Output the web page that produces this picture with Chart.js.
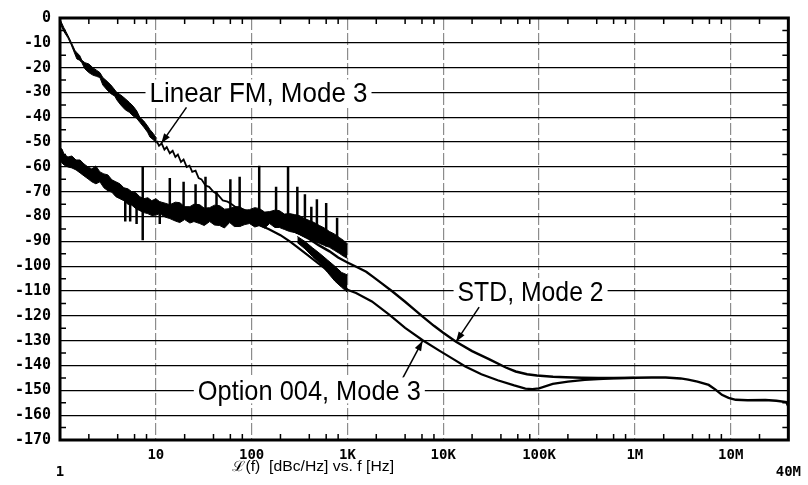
<!DOCTYPE html>
<html>
<head>
<meta charset="utf-8">
<script src="https://cdn.jsdelivr.net/npm/chart.js@4.4.0/dist/chart.umd.min.js"></script>
<style>
  html, body { margin: 0; padding: 0; background: #fff; }
  #wrap { width: 808px; height: 485px; }
</style>
</head>
<body>
<div id="wrap"><canvas id="ruidoFase"></canvas></div>
<script>
// Eje X (Hz, logaritmico) y eje Y (dBc/Hz)
const xTickValues = [1, 10, 100, 1e3, 1e4, 1e5, 1e6, 1e7, 4e7];
const xTickLabels = ['1', '10', '100', '1K', '10K', '100K', '1M', '10M', '40M'];
const yMin = -170;
const yMax = 0;

// Linear FM, Mode 3: franja ruidosa hasta 10 Hz
const fmBandFreq  = [1, 1.1, 1.21, 1.3, 1.43, 1.5, 1.6, 1.69, 1.82, 2.0, 2.2, 2.4, 2.61, 2.8, 3.1, 3.4, 3.74, 3.92, 4.3, 4.8, 5.3, 5.8, 6.34, 6.81, 7.5, 8.2, 8.7, 9.4, 10.2];
const fmBandUpper = [-0.5, -4, -7, -9.5, -13, -14, -15, -17, -18, -18.5, -20, -21, -22, -24, -25.5, -27, -29, -30, -31, -32.5, -34, -35.5, -37.5, -40, -41.5, -43.5, -45, -46.5, -48.5];
const fmBandLower = [-2, -5.5, -8, -10.5, -14.5, -16.5, -17, -18, -20.5, -22, -23, -23.5, -24, -27, -29, -30.5, -31.5, -33, -35, -37, -38, -39.5, -40.5, -42, -44, -46, -48, -49, -50.5];
// Linear FM, Mode 3: traza fina de 10 a 100 Hz
const fmLineFreq  = [10.2, 10.8, 11.5, 12.3, 13, 14, 15, 16, 17, 18.3, 19.5, 21, 22.5, 24, 26, 28, 30, 33, 36, 40, 44, 50, 56, 62, 70, 80, 95];
const fmLineLevel = [-49.5, -51.5, -50.5, -53, -52, -54.5, -53.5, -56, -55, -58, -57, -60, -59.5, -62, -61.5, -64.5, -65, -67.5, -68, -70, -71, -73.5, -74, -75, -76.5, -77, -78];

// STD / Option 004: masa de ruido de 1 Hz a 1 kHz (borde superior e inferior)
const massFreq  = [1, 1.05, 1.1, 1.21, 1.33, 1.47, 1.62, 1.78, 1.96, 2.15, 2.37, 2.61, 2.87, 3.16, 3.48, 3.83, 4.22, 4.64, 5.11, 5.62, 6.19, 6.81, 7.5, 8.25, 9.08, 10, 11, 12.5, 14, 16, 17.8, 20, 22.7, 25, 28.7, 32, 36.5, 41, 46.4, 52, 59, 66, 75, 85, 95, 108, 121, 137, 154, 175, 195, 220, 249, 280, 316, 355, 402, 450, 511, 575, 649, 730, 822, 910, 1000];
const massUpper = [-52.4, -52.8, -54.8, -56, -55.6, -57.2, -57.2, -58.8, -60, -60.8, -59.6, -62, -62.8, -63.2, -65.2, -66, -66.8, -68.4, -68.8, -70, -70.4, -72, -72.8, -72.4, -73.6, -72.8, -74, -74.6, -75.2, -74.2, -74.4, -76, -76, -75, -75.2, -76.6, -76.4, -75.4, -75.6, -77, -76.8, -76, -76, -77.4, -77.2, -76.4, -76.8, -78.2, -78, -77.4, -77.6, -79, -78.8, -79.2, -79.6, -80.8, -81.6, -82.4, -83.6, -84.6, -86, -87, -88.4, -89.6, -91];
const massLower = [-57.2, -58.4, -59.2, -60, -60.4, -61.2, -62.4, -63.6, -64.8, -66, -66.8, -66, -68.4, -69.6, -70.2, -72, -72.8, -73.6, -75, -75.4, -76.8, -77.6, -78.4, -78.8, -79.6, -79.4, -78.8, -80.2, -80.8, -81.8, -82.4, -81.2, -82.6, -82, -82.8, -83.6, -82, -83.4, -83.6, -84.6, -82.4, -84, -84, -83.2, -82.8, -84.2, -83.6, -84.6, -82.8, -84.4, -84.4, -85.2, -86, -86.4, -87.2, -88.2, -88.8, -90, -90.8, -91.6, -92.4, -93.6, -94.8, -96, -96.8];

// Option 004: tramo ruidoso inferior de 300 Hz a 1 kHz
const optBlobFreq  = [300, 360, 430, 520, 620, 740, 870, 1000];
const optBlobUpper = [-88, -90, -92.5, -95, -97.5, -100, -102.5, -103.5];
const optBlobLower = [-90.5, -93, -96, -99, -102.5, -106, -108.5, -110.5];

// Espurias de red y otras (frecuencia, pico, base)
const spurFreq   = [4.8, 5.4, 6.3, 7.3, 11, 14, 19.5, 26, 33, 43, 60, 75, 120, 180, 240, 300, 360, 420, 480, 600, 780];
const spurTop    = [-70, -70, -73, -60, -74, -64.5, -66, -67, -64, -70, -65, -64, -59.5, -68, -60, -68, -71, -76, -73, -74.5, -80.5];
const spurBottom = [-82, -82, -83, -89.5, -83, -80, -81, -82, -83, -83, -82, -84, -83, -84, -85, -87, -88, -89, -90, -92, -94];

// STD, Mode 2: traza suave
const stdFreq  = [230, 300, 400, 500, 650, 800, 1000, 1250, 1570, 1840, 2300, 2950, 4000, 5000, 6100, 8000, 10000, 13600, 20000, 30000, 45000, 57000, 75000, 95000, 140000, 190000, 280000, 414000, 600000, 1000000, 1500000, 2100000, 3000000, 3600000, 4500000, 5900000, 7000000, 8100000, 9500000, 11300000, 15000000, 23000000, 30000000, 38000000, 40000000];
const stdLevel = [-84.6, -86.5, -89, -91.5, -94, -96.5, -98.5, -100.3, -102.2, -104.2, -107, -110.2, -114.3, -117.5, -120.3, -124, -126.8, -130.4, -134.2, -137.4, -140.8, -142.4, -143.5, -144, -144.5, -144.7, -144.9, -145, -145, -144.9, -144.8, -144.8, -145.2, -145.7, -146.5, -147.8, -149.8, -151.8, -153, -153.8, -154, -153.9, -154.2, -154.7, -156.5];

// Option 004, Mode 3: traza suave
const optFreq  = [116, 150, 200, 250, 300, 400, 500, 600, 700, 850, 1000, 1230, 1800, 2750, 4000, 6100, 9100, 13000, 17000, 25000, 37000, 55000, 72000, 85000, 100000, 139000, 200000, 300000, 414000, 600000, 1000000];
const optLevel = [-83.2, -85, -87.5, -90, -92.3, -96, -99, -101.3, -103.3, -106, -109.5, -110.8, -114.2, -119.6, -124.8, -129.8, -134, -137.6, -140.4, -143.5, -145.9, -148, -149.3, -149.5, -149.2, -147.4, -146.5, -145.8, -145.5, -145.2, -145];

// Rotulos de las curvas (centro en frecuencia / nivel, ancho en px)
const labelText  = ['Linear FM, Mode 3', 'STD, Mode 2', 'Option 004, Mode 3'];
const labelFreq  = [118, 81600, 400];
const labelLevel = [-30, -110, -150];
const labelWidth = [218, 146, 223];

// Flechas: origen y punta
const arrowFromFreq  = [20.9, 23700, 3600];
const arrowFromLevel = [-36, -116.5, -146.6];
const arrowToFreq    = [11.4, 13600, 6100];
const arrowToLevel   = [-50.5, -130.4, -130];

const pts = (fs, ls) => fs.map((f, i) => ({ x: f, y: ls[i] }));

const spurPts = spurFreq.flatMap((f, i) => [
    { x: f, y: spurBottom[i] },
    { x: f, y: spurTop[i] },
    { x: f, y: null }
]);

const linea = (data, width, extra) => Object.assign({
    data,
    borderColor: '#000',
    backgroundColor: '#000',
    borderWidth: width,
    pointRadius: 0,
    tension: 0,
    fill: false
}, extra || {});

// Marcas menores, marco y rotulos
const decorado = {
    id: 'decorado',
    afterDatasetsDraw(chart) {
        const { ctx, chartArea: a, scales: { x, y } } = chart;
        ctx.save();

        // marcas menores del eje X: 2, 4, 6, 8 por decada
        ctx.strokeStyle = '#000';
        ctx.lineWidth = 1.5;
        for (let d = 0; d < 8; d++) {
            [2, 4, 6, 8].forEach(m => {
                const v = m * Math.pow(10, d);
                if (v >= 4e7) return;
                const px = x.getPixelForValue(v);
                ctx.beginPath();
                ctx.moveTo(px, a.bottom); ctx.lineTo(px, a.bottom - 6);
                ctx.moveTo(px, a.top); ctx.lineTo(px, a.top + 6);
                ctx.stroke();
            });
        }
        // marcas menores del eje Y cada 5 dB
        for (let v = -5; v > yMin; v -= 10) {
            const py = y.getPixelForValue(v);
            ctx.beginPath();
            ctx.moveTo(a.left, py); ctx.lineTo(a.left + 6, py);
            ctx.moveTo(a.right, py); ctx.lineTo(a.right - 6, py);
            ctx.stroke();
        }

        // marco
        ctx.lineWidth = 3;
        ctx.strokeRect(a.left, a.top, a.right - a.left, a.bottom - a.top);

        // flechas
        ctx.lineWidth = 1.5;
        ctx.fillStyle = '#000';
        arrowFromFreq.forEach((f, i) => {
            const x0 = x.getPixelForValue(f), y0 = y.getPixelForValue(arrowFromLevel[i]);
            const x1 = x.getPixelForValue(arrowToFreq[i]), y1 = y.getPixelForValue(arrowToLevel[i]);
            const ang = Math.atan2(y1 - y0, x1 - x0);
            ctx.beginPath();
            ctx.moveTo(x0, y0); ctx.lineTo(x1, y1);
            ctx.stroke();
            ctx.beginPath();
            ctx.moveTo(x1, y1);
            ctx.lineTo(x1 - 10 * Math.cos(ang) + 3.5 * Math.sin(ang), y1 - 10 * Math.sin(ang) - 3.5 * Math.cos(ang));
            ctx.lineTo(x1 - 10 * Math.cos(ang) - 3.5 * Math.sin(ang), y1 - 10 * Math.sin(ang) + 3.5 * Math.cos(ang));
            ctx.closePath();
            ctx.fill();
        });

        // rotulos con fondo blanco
        labelText.forEach((t, i) => {
            const cx = x.getPixelForValue(labelFreq[i]);
            const cy = y.getPixelForValue(labelLevel[i]);
            const w = labelWidth[i];
            ctx.fillStyle = '#fff';
            ctx.fillRect(cx - w / 2 - 4, cy - 13, w + 8, 26);
            ctx.font = '28px "Liberation Sans", Arial, sans-serif';
            const sx = w / ctx.measureText(t).width;
            ctx.save();
            ctx.translate(cx, cy);
            ctx.scale(sx, 1);
            ctx.fillStyle = '#000';
            ctx.textAlign = 'center';
            ctx.textBaseline = 'alphabetic';
            ctx.fillText(t, 0, 10);
            ctx.restore();
        });

        // titulo del eje X
        const titulo = '\u2112(f)  [dBc/Hz] vs. f [Hz]';
        ctx.font = '14px "Liberation Sans", Arial, sans-serif';
        const tw = ctx.measureText(titulo).width;
        ctx.save();
        ctx.translate(a.left + 253, a.bottom + 27);
        ctx.scale(162 / tw, 1);
        ctx.fillStyle = '#000';
        ctx.textAlign = 'center';
        ctx.textBaseline = 'middle';
        ctx.fillText(titulo, 0, 0);
        ctx.restore();

        ctx.restore();
    }
};

const ctx = document.getElementById('ruidoFase').getContext('2d');
new Chart(ctx, {
    type: 'line',
    data: {
        datasets: [
            linea(pts(massFreq, massUpper), 1, { fill: '+1' }),
            linea(pts(massFreq, massLower), 1),
            linea(pts(fmBandFreq, fmBandUpper), 1, { fill: '+1' }),
            linea(pts(fmBandFreq, fmBandLower), 1),
            linea(pts(optBlobFreq, optBlobUpper), 1, { fill: '+1' }),
            linea(pts(optBlobFreq, optBlobLower), 1),
            linea(spurPts, 2.5, { spanGaps: false }),
            linea(pts(fmLineFreq, fmLineLevel), 1.8),
            linea(pts(stdFreq, stdLevel), 2.4),
            linea(pts(optFreq, optLevel), 2.2)
        ]
    },
    options: {
        responsive: true,
        maintainAspectRatio: false,
        animation: false,
        layout: { padding: { top: 15, right: 18, left: 0, bottom: 0 } },
        plugins: {
            legend: { display: false },
            tooltip: { enabled: false }
        },
        scales: {
            x: {
                type: 'logarithmic',
                min: 1,
                max: 4e7,
                afterBuildTicks: scale => { scale.ticks = xTickValues.map(v => ({ value: v })); },
                afterFit: scale => { scale.height = 45; },
                ticks: {
                    autoSkip: false,
                    maxRotation: 0,
                    padding: 7,
                    color: '#000',
                    font: { family: '"DejaVu Sans Mono", monospace', size: 14, weight: 'bold' },
                    callback: (v, i) => (i === 0 || i === xTickLabels.length - 1) ? ['', xTickLabels[i]] : xTickLabels[i]
                },
                grid: {
                    drawTicks: false,
                    lineWidth: 1.2,
                    color: c => (c.tick && (c.tick.value === 1 || c.tick.value === 4e7)) ? 'rgba(0,0,0,0)' : '#8c8c8c'
                },
                border: { display: false, dash: [12, 3] }
            },
            y: {
                min: yMin,
                max: yMax,
                afterFit: scale => { scale.width = 60; },
                ticks: {
                    stepSize: 10,
                    padding: 9,
                    color: '#000',
                    font: { family: '"DejaVu Sans Mono", monospace', size: 15, weight: 'bold' },
                    callback: v => String(v)
                },
                grid: { drawTicks: false, lineWidth: 1.3, color: '#000' },
                border: { display: false }
            }
        }
    },
    plugins: [decorado]
});
</script>
</body>
</html>
